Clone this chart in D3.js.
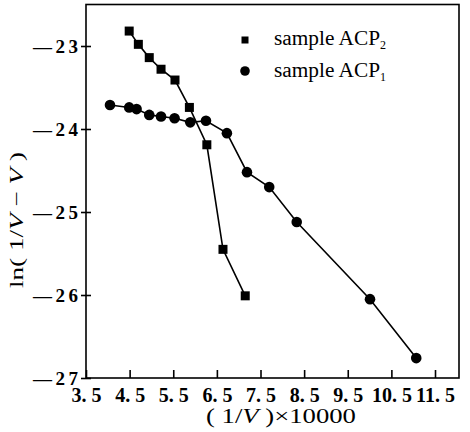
<!DOCTYPE html>
<html>
<head>
<meta charset="utf-8">
<script src="https://cdn.jsdelivr.net/npm/d3@7"></script>
<style>
  html, body { margin: 0; padding: 0; background: #fff; }
  svg { display: block; }
  text { font-family: "Liberation Serif", "DejaVu Serif", serif; fill: #000; }
</style>
</head>
<body>
<svg id="chart" width="470" height="432"></svg>
<script>
// ---- data ----
const acp2X = [4.49, 4.70, 4.95, 5.22, 5.54, 5.87, 6.27, 6.64, 7.15];
const acp2Y = [-22.82, -22.98, -23.14, -23.28, -23.41, -23.74, -24.19, -25.45, -26.01];
const acp1X = [4.05, 4.49, 4.66, 4.95, 5.22, 5.53, 5.89, 6.25, 6.73, 7.19, 7.70, 8.33, 10.01, 11.07];
const acp1Y = [-23.71, -23.74, -23.76, -23.83, -23.85, -23.87, -23.92, -23.90, -24.05, -24.52, -24.70, -25.12, -26.05, -26.76];
const xTickValues = [3.5, 4.5, 5.5, 6.5, 7.5, 8.5, 9.5, 10.5, 11.5];
const xTickLabels = ["3. 5", "4. 5", "5. 5", "6. 5", "7. 5", "8. 5", "9. 5", "10. 5", "11. 5"];
const yTickValues = [-27, -26, -25, -24, -23];
const yTickLabels = ["\u201427", "\u201426", "\u201425", "\u201424", "\u201423"];
const seriesNames = ["sample ACP", "sample ACP"];
const seriesSubs = ["2", "1"];

const svg = d3.select("#chart");
const L = 86, R = 459, T = 4.5, B = 378;
const x = d3.scaleLinear().domain([3.5, 12.05]).range([L, R]);
const y = d3.scaleLinear().domain([-27, -22.5]).range([B, T]);

// frame
svg.append("rect").attr("x", L).attr("y", T).attr("width", R - L).attr("height", B - T)
  .attr("fill", "none").attr("stroke", "#000").attr("stroke-width", 1.6);

// x axis
const xAxis = d3.axisBottom(x).tickValues(xTickValues)
  .tickFormat((d, i) => xTickLabels[i]).tickSizeInner(-8).tickSizeOuter(0).tickPadding(12);
const gx = svg.append("g").attr("transform", `translate(0,${B})`).call(xAxis);
gx.select(".domain").remove();
gx.selectAll(".tick line").attr("stroke", "#000").attr("stroke-width", 1.6);
gx.selectAll(".tick text").attr("font-size", 20).attr("font-weight", "bold")
  .attr("font-family", "Liberation Serif, serif").attr("dy", "0.6em");

// y axis
const yAxis = d3.axisLeft(y).tickValues(yTickValues)
  .tickFormat((d, i) => yTickLabels[i]).tickSizeInner(5).tickSizeOuter(0).tickPadding(3);
const gy = svg.append("g").attr("transform", `translate(${L},0)`).call(yAxis);
gy.select(".domain").remove();
gy.selectAll(".tick line").attr("x1", 5).attr("stroke", "#000").attr("stroke-width", 1.6);
gy.selectAll(".tick text").attr("font-size", 19).attr("font-weight", "bold")
  .attr("font-family", "Liberation Serif, serif").attr("textLength", 45).attr("lengthAdjust", "spacing");

// axis titles
const xt = svg.append("text").attr("x", 281).attr("y", 423).attr("text-anchor", "middle")
  .attr("font-size", 20).attr("textLength", 150).attr("lengthAdjust", "spacingAndGlyphs");
xt.append("tspan").text("( 1/");
xt.append("tspan").attr("font-style", "italic").text("V");
xt.append("tspan").text(" )\u00d710000");

const yt = svg.append("text").attr("transform", "translate(23,220) rotate(-90)")
  .attr("text-anchor", "middle").attr("font-size", 19).attr("textLength", 136).attr("lengthAdjust", "spacingAndGlyphs");
yt.append("tspan").text("ln( 1/");
yt.append("tspan").attr("font-style", "italic").text("V");
yt.append("tspan").text(" \u2212 ");
yt.append("tspan").attr("font-style", "italic").text("V");
yt.append("tspan").text(" )");

// lines
const line = d3.line().x(d => x(d[0])).y(d => y(d[1]));
const s2 = acp2X.map((v, i) => [v, acp2Y[i]]);
const s1 = acp1X.map((v, i) => [v, acp1Y[i]]);
svg.append("path").datum(s1).attr("d", line).attr("fill", "none").attr("stroke", "#000").attr("stroke-width", 1.6);
svg.append("path").datum(s2).attr("d", line).attr("fill", "none").attr("stroke", "#000").attr("stroke-width", 1.6);

// markers
svg.selectAll(".circ").data(s1).enter().append("circle")
  .attr("cx", d => x(d[0])).attr("cy", d => y(d[1])).attr("r", 5.3).attr("fill", "#000");
svg.selectAll(".sq").data(s2).enter().append("rect")
  .attr("x", d => x(d[0]) - 4.5).attr("y", d => y(d[1]) - 4.5)
  .attr("width", 9).attr("height", 9).attr("fill", "#000");

// legend
svg.append("rect").attr("x", 241.5).attr("y", 36.5).attr("width", 7).attr("height", 7).attr("fill", "#000");
svg.append("circle").attr("cx", 245).attr("cy", 71).attr("r", 4.8).attr("fill", "#000");
[45, 77].forEach((yy, i) => {
  const t = svg.append("text").attr("x", 274).attr("y", yy).attr("font-size", 20);
  t.append("tspan").attr("textLength", 106).attr("lengthAdjust", "spacingAndGlyphs").text(seriesNames[i]);
  t.append("tspan").attr("font-size", 12).attr("dy", 4).text(seriesSubs[i]);
});
</script>
</body>
</html>
